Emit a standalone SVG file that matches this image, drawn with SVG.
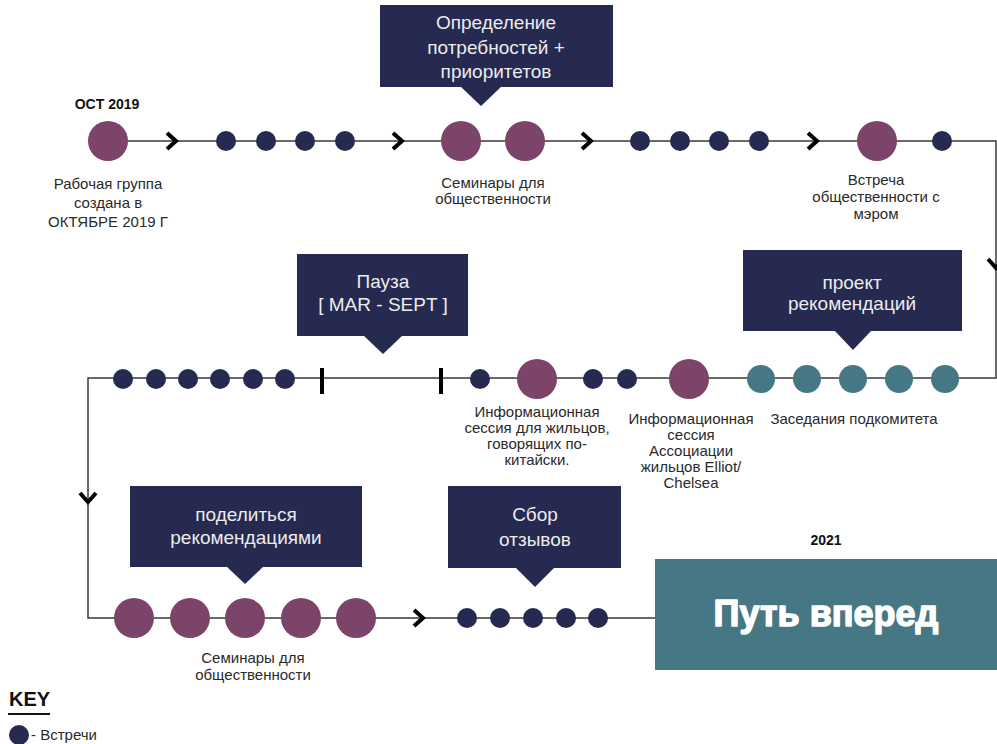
<svg xmlns="http://www.w3.org/2000/svg" xmlns:xlink="http://www.w3.org/1999/xlink" width="997" height="744" viewBox="0 0 997 744">
<style>
  .line{fill:none;stroke:#3a3a3a;stroke-width:1.5}
  .chev{fill:none;stroke:#000;stroke-width:4;stroke-linejoin:miter}
  .big{fill:#7b4468}
  .dot{fill:#262950}
  .teal{fill:#457884}
  .box{fill:#262950}
  .ct{font-family:"Liberation Sans","Noto Sans",sans-serif;font-size:19px;fill:#ececec;text-anchor:middle}
  .lbl{font-family:"Liberation Sans","Noto Sans",sans-serif;font-size:15px;fill:#2a2a2a;text-anchor:middle}
  .date{font-family:"Liberation Sans","Noto Sans",sans-serif;font-size:14px;font-weight:bold;fill:#111;text-anchor:middle}
  .bar{stroke:#000;stroke-width:4}
</style>
<defs>
  <path id="chevR" class="chev" d="M-5,-8 L4,0 L-5,8"/>
  <path id="chevD" class="chev" d="M-8,-5 L0,4 L8,-5"/>
</defs>

<g id="connectors">
  <path class="line" d="M108,141 H996 V378 H88 V618 H655"/>
  <use xlink:href="#chevR" x="172" y="141"/>
  <use xlink:href="#chevR" x="398" y="141"/>
  <use xlink:href="#chevR" x="587" y="141"/>
  <use xlink:href="#chevR" x="813" y="141"/>
  <use xlink:href="#chevD" x="996" y="264"/>
  <use xlink:href="#chevD" x="88" y="498"/>
  <use xlink:href="#chevR" x="419" y="618"/>
  <line class="bar" x1="322" y1="368" x2="322" y2="394"/>
  <line class="bar" x1="441" y1="368" x2="441" y2="394"/>
</g>

<g id="row1">
  <g id="n-oct2019">
    <text class="date" x="107" y="109">OCT 2019</text>
    <circle class="big" cx="108" cy="141" r="20"/>
    <text class="lbl"><tspan x="108" y="189">Рабочая группа</tspan><tspan x="108" y="208">создана в</tspan><tspan x="108" y="227">ОКТЯБРЕ 2019 Г</tspan></text>
  </g>
  <g id="n-meet1">
    <circle class="dot" cx="226" cy="141" r="10"/>
    <circle class="dot" cx="266" cy="141" r="10"/>
    <circle class="dot" cx="305" cy="141" r="10"/>
    <circle class="dot" cx="345" cy="141" r="10"/>
  </g>
  <g id="n-callout-needs">
    <rect class="box" x="380" y="5" width="233" height="82"/>
    <polygon class="box" points="460,86 502,86 481,106"/>
    <text class="ct"><tspan x="496" y="29">Определение</tspan><tspan x="496" y="54">потребностей +</tspan><tspan x="496" y="78">приоритетов</tspan></text>
  </g>
  <g id="n-seminars1">
    <circle class="big" cx="461" cy="141" r="20"/>
    <circle class="big" cx="525" cy="141" r="20"/>
    <text class="lbl"><tspan x="493" y="188">Семинары для</tspan><tspan x="493" y="204">общественности</tspan></text>
  </g>
  <g id="n-meet2">
    <circle class="dot" cx="640" cy="141" r="10"/>
    <circle class="dot" cx="680" cy="141" r="10"/>
    <circle class="dot" cx="719" cy="141" r="10"/>
    <circle class="dot" cx="759" cy="141" r="10"/>
  </g>
  <g id="n-mayor">
    <circle class="big" cx="877" cy="141" r="20"/>
    <text class="lbl"><tspan x="876" y="185">Встреча</tspan><tspan x="876" y="202">общественности с</tspan><tspan x="876" y="219">мэром</tspan></text>
  </g>
  <g id="n-meet3">
    <circle class="dot" cx="942" cy="141" r="10"/>
  </g>
</g>

<g id="row2">
  <g id="n-callout-draft">
    <rect class="box" x="743" y="250" width="219" height="81"/>
    <polygon class="box" points="834,330 872,330 853,350"/>
    <text class="ct"><tspan x="852" y="289">проект</tspan><tspan x="852" y="310">рекомендаций</tspan></text>
  </g>
  <g id="n-subcommittee">
    <circle class="teal" cx="761" cy="379" r="14"/>
    <circle class="teal" cx="807" cy="379" r="14"/>
    <circle class="teal" cx="853" cy="379" r="14"/>
    <circle class="teal" cx="899" cy="379" r="14"/>
    <circle class="teal" cx="945" cy="379" r="14"/>
    <text class="lbl" x="854" y="424">Заседания подкомитета</text>
  </g>
  <g id="n-elliot">
    <circle class="big" cx="689" cy="379" r="20"/>
    <text class="lbl"><tspan x="691" y="424">Информационная</tspan><tspan x="691" y="440">сессия</tspan><tspan x="691" y="456">Ассоциации</tspan><tspan x="691" y="472">жильцов Elliot/</tspan><tspan x="691" y="488">Chelsea</tspan></text>
  </g>
  <g id="n-meet4">
    <circle class="dot" cx="593" cy="379" r="10"/>
    <circle class="dot" cx="627" cy="379" r="10"/>
  </g>
  <g id="n-chinese">
    <circle class="big" cx="537" cy="379" r="20"/>
    <text class="lbl"><tspan x="537" y="417">Информационная</tspan><tspan x="537" y="433">сессия для жильцов,</tspan><tspan x="537" y="449">говорящих по-</tspan><tspan x="537" y="465">китайски.</tspan></text>
  </g>
  <g id="n-meet5">
    <circle class="dot" cx="480" cy="379" r="10"/>
  </g>
  <g id="n-callout-pause">
    <rect class="box" x="297" y="254" width="171" height="82"/>
    <polygon class="box" points="363,335 403,335 383,354"/>
    <text class="ct"><tspan x="383" y="288">Пауза</tspan><tspan x="383" y="311">[ MAR - SEPT ]</tspan></text>
  </g>
  <g id="n-meet6">
    <circle class="dot" cx="123" cy="379" r="10"/>
    <circle class="dot" cx="156" cy="379" r="10"/>
    <circle class="dot" cx="188" cy="379" r="10"/>
    <circle class="dot" cx="220" cy="379" r="10"/>
    <circle class="dot" cx="253" cy="379" r="10"/>
    <circle class="dot" cx="285" cy="379" r="10"/>
  </g>
</g>

<g id="row3">
  <g id="n-callout-share">
    <rect class="box" x="130" y="486" width="232" height="81"/>
    <polygon class="box" points="226,566 264,566 245,584"/>
    <text class="ct"><tspan x="246" y="521">поделиться</tspan><tspan x="246" y="544">рекомендациями</tspan></text>
  </g>
  <g id="n-seminars2">
    <circle class="big" cx="134" cy="618" r="20"/>
    <circle class="big" cx="190" cy="618" r="20"/>
    <circle class="big" cx="245" cy="618" r="20"/>
    <circle class="big" cx="301" cy="618" r="20"/>
    <circle class="big" cx="356" cy="618" r="20"/>
    <text class="lbl"><tspan x="253" y="663">Семинары для</tspan><tspan x="253" y="680">общественности</tspan></text>
  </g>
  <g id="n-callout-feedback">
    <rect class="box" x="448" y="486" width="173" height="82"/>
    <polygon class="box" points="515,567 555,567 535,587"/>
    <text class="ct"><tspan x="535" y="521">Сбор</tspan><tspan x="535" y="546">отзывов</tspan></text>
  </g>
  <g id="n-meet7">
    <circle class="dot" cx="467" cy="618" r="10"/>
    <circle class="dot" cx="500" cy="618" r="10"/>
    <circle class="dot" cx="533" cy="618" r="10"/>
    <circle class="dot" cx="566" cy="618" r="10"/>
    <circle class="dot" cx="598" cy="618" r="10"/>
  </g>
  <g id="n-forward">
    <text class="date" x="826" y="545">2021</text>
    <rect class="teal" x="655" y="559" width="342" height="111"/>
    <text x="826" y="626" text-anchor="middle" font-family="'Liberation Sans','Noto Sans',sans-serif" font-size="36" font-weight="900" fill="#fff" stroke="#fff" stroke-width="1.4" stroke-linejoin="round">Путь вперед</text>
  </g>
</g>

<g id="key">
  <text x="9" y="706" font-family="'Liberation Sans','Noto Sans',sans-serif" font-size="20" font-weight="bold" fill="#111">KEY</text>
  <line x1="8" y1="714" x2="50" y2="714" stroke="#111" stroke-width="2"/>
  <circle class="dot" cx="19" cy="735" r="10"/>
  <text x="31" y="740" font-family="'Liberation Sans','Noto Sans',sans-serif" font-size="15" fill="#2a2a2a">- Встречи</text>
</g>
</svg>
